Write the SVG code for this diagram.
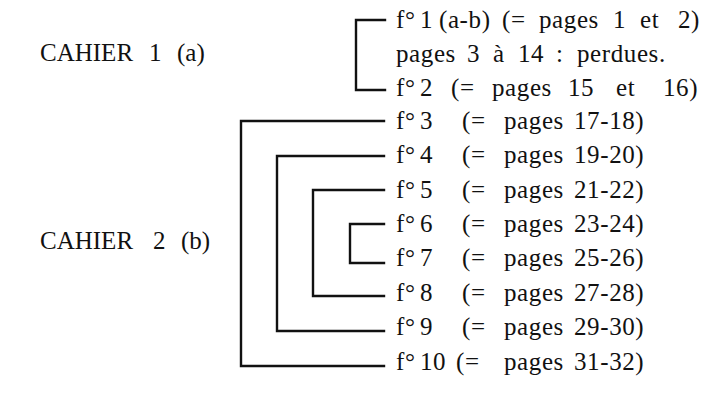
<svg xmlns="http://www.w3.org/2000/svg" width="705" height="397" viewBox="0 0 705 397">
<style>
text{font-family:"Liberation Serif","Times New Roman",serif;font-size:25px;fill:#111}
.f{letter-spacing:0.6px}
.c{fill:none;stroke:#111;stroke-width:2.4;stroke-linecap:square}
</style>
<rect width="705" height="397" fill="#fff"/>
<g id="cahier1"><text x="40" y="61">CAHIER<tspan x="149">1</tspan><tspan x="177">(a)</tspan></text></g>
<g id="cahier2"><text x="40" y="249">CAHIER<tspan x="153">2</tspan><tspan x="181">(b)</tspan></text></g>
<g id="f1"><text class="f" x="396" y="28">f°<tspan x="420">1</tspan><tspan x="439">(a-b)</tspan><tspan x="502">(=</tspan><tspan x="539">pages</tspan><tspan x="613">1</tspan><tspan x="640">et</tspan><tspan x="678">2)</tspan></text></g>
<g id="lost"><text class="f" x="396" y="62">pages<tspan x="467">3</tspan><tspan x="493">à</tspan><tspan x="518">14</tspan><tspan x="556">:</tspan><tspan x="577">perdues.</tspan></text></g>
<g id="f2"><text class="f" x="396" y="96">f°<tspan x="420">2</tspan><tspan x="451">(=</tspan><tspan x="492">pages</tspan><tspan x="568">15</tspan><tspan x="616">et</tspan><tspan x="663">16)</tspan></text></g>
<g id="f3"><text class="f" x="396" y="129">f°<tspan x="420">3</tspan><tspan x="462">(=</tspan><tspan x="504">pages</tspan><tspan x="574">17-18)</tspan></text></g>
<g id="f4"><text class="f" x="396" y="163">f°<tspan x="420">4</tspan><tspan x="462">(=</tspan><tspan x="504">pages</tspan><tspan x="574">19-20)</tspan></text></g>
<g id="f5"><text class="f" x="396" y="198">f°<tspan x="420">5</tspan><tspan x="462">(=</tspan><tspan x="504">pages</tspan><tspan x="574">21-22)</tspan></text></g>
<g id="f6"><text class="f" x="396" y="232">f°<tspan x="420">6</tspan><tspan x="462">(=</tspan><tspan x="504">pages</tspan><tspan x="574">23-24)</tspan></text></g>
<g id="f7"><text class="f" x="396" y="266">f°<tspan x="420">7</tspan><tspan x="462">(=</tspan><tspan x="504">pages</tspan><tspan x="574">25-26)</tspan></text></g>
<g id="f8"><text class="f" x="396" y="301">f°<tspan x="420">8</tspan><tspan x="462">(=</tspan><tspan x="504">pages</tspan><tspan x="574">27-28)</tspan></text></g>
<g id="f9"><text class="f" x="396" y="335">f°<tspan x="420">9</tspan><tspan x="462">(=</tspan><tspan x="504">pages</tspan><tspan x="574">29-30)</tspan></text></g>
<g id="f10"><text class="f" x="396" y="370">f°<tspan x="420">10</tspan><tspan x="456">(=</tspan><tspan x="504">pages</tspan><tspan x="574">31-32)</tspan></text></g>
<g id="connectors">
<path class="c" d="M385 20H356V90H385"/>
<path class="c" d="M384 121H241V366H384"/>
<path class="c" d="M384 156H277V331H384"/>
<path class="c" d="M384 190H313V296H384"/>
<path class="c" d="M384 224H350V263H384"/>
</g>
</svg>
